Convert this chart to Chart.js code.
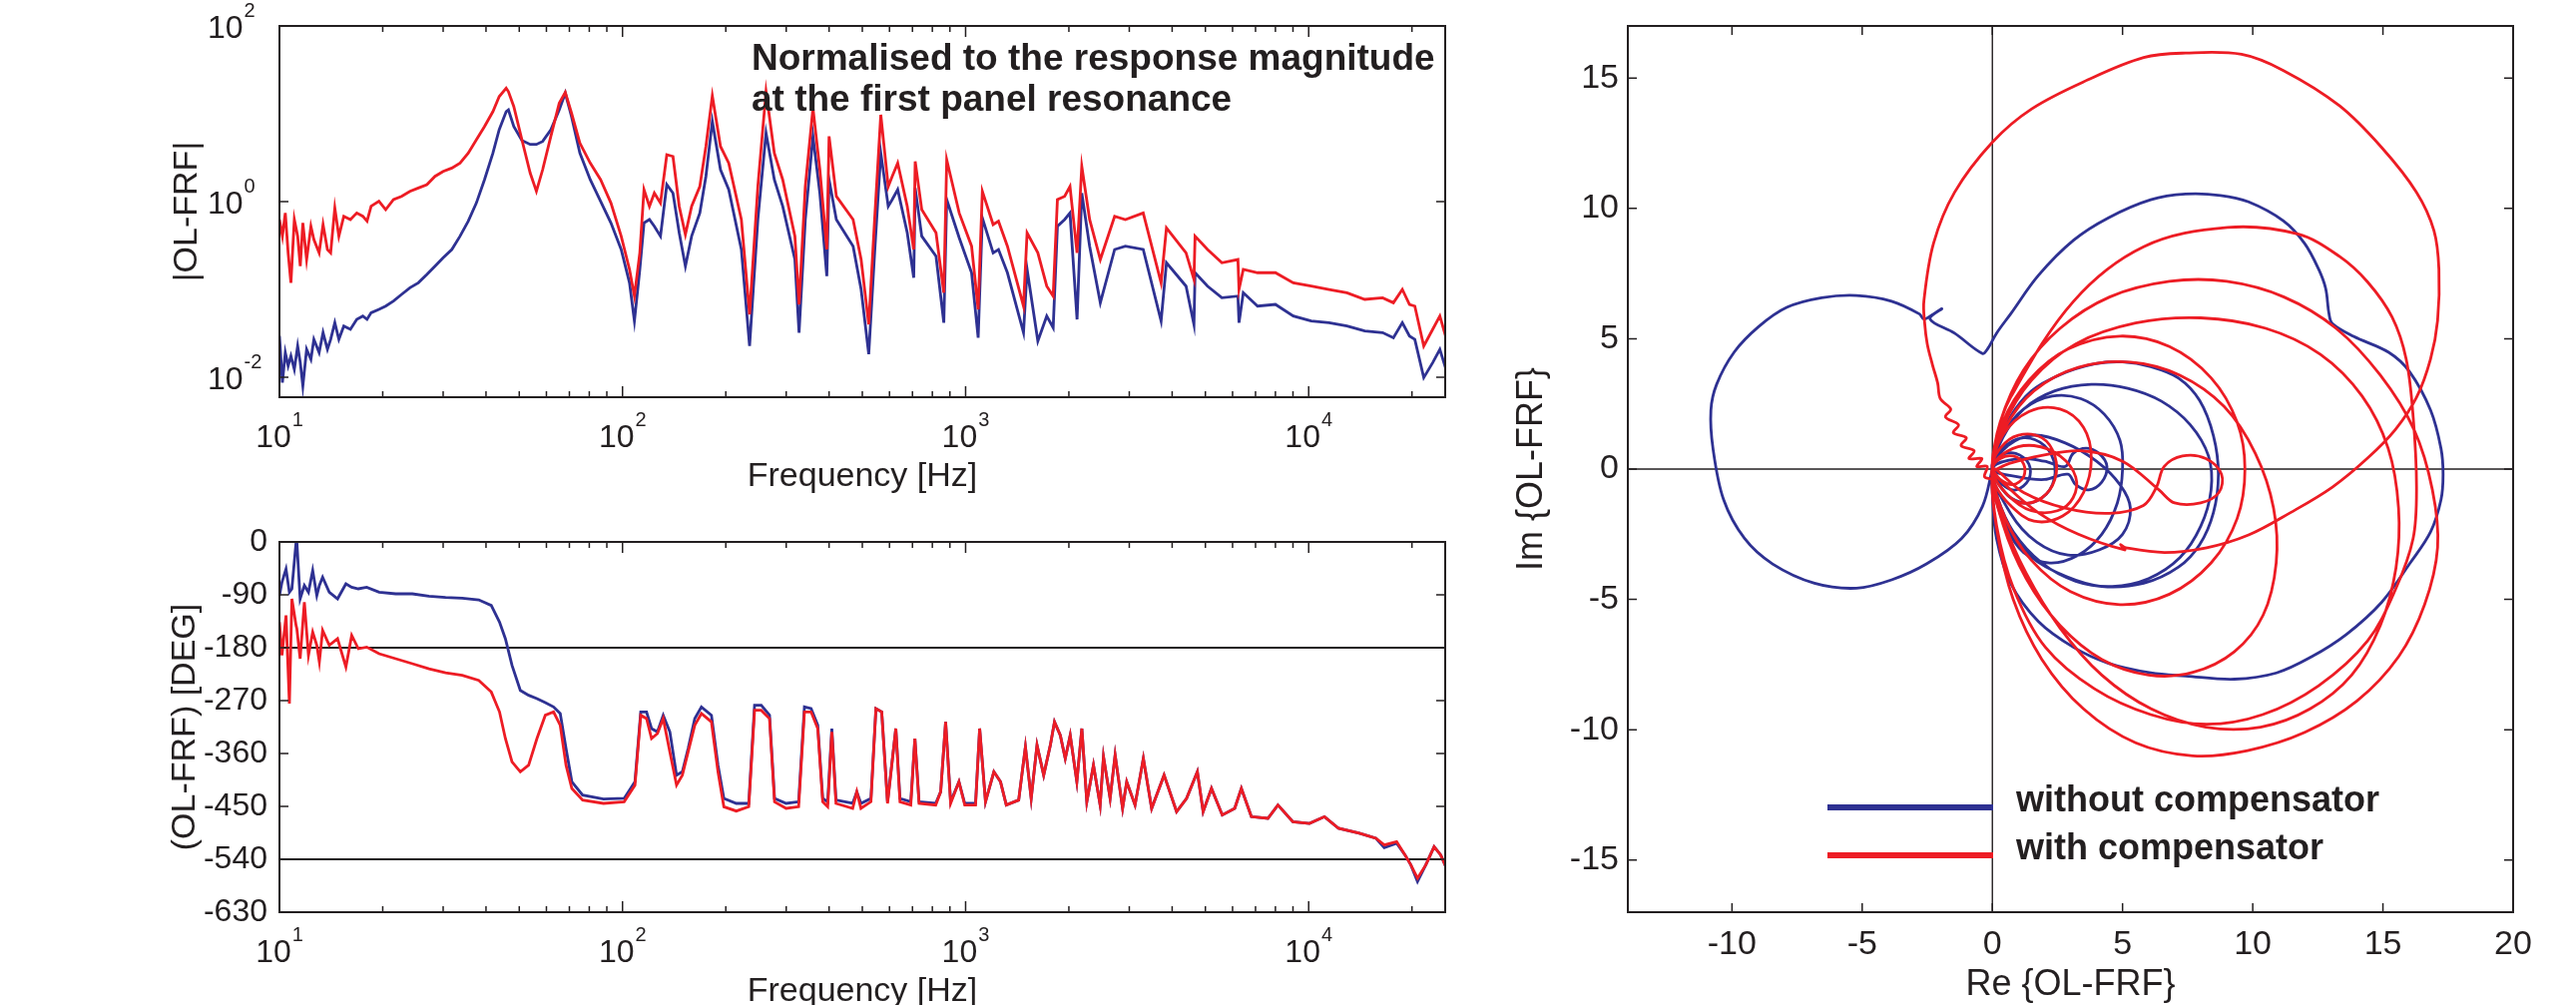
<!DOCTYPE html>
<html>
<head>
<meta charset="utf-8">
<title>OL-FRF with and without compensator</title>
<script src="https://cdn.jsdelivr.net/npm/chart.js@4.4.0/dist/chart.umd.min.js"></script>
<style>
  html, body { margin: 0; padding: 0; background: #fff; }
  #wrap { position: relative; width: 2581px; height: 1007px; overflow: hidden; }
  #wrap canvas { position: absolute; left: 0; top: 0; }
</style>
</head>
<body>
<div id="wrap">
  <canvas id="mag" width="2581" height="1007"></canvas>
  <canvas id="phase" width="2581" height="1007"></canvas>
  <canvas id="nyq" width="2581" height="1007"></canvas>
</div>
<script>
// ---- data ----
// magnitude plot: frequency [Hz] and |OL-FRF| for both cases
const magFreq = [10, 10.2, 10.4, 10.6, 10.8, 11.05, 11.3, 11.5, 11.7, 12.0,
  12.35, 12.6, 13.05, 13.4, 13.8, 14.1, 14.5, 14.9, 15.4, 16.1,
  16.8, 17.5, 18.0, 18.5, 19.5, 20.4, 21.5, 22.7, 24.0, 25.4,
  26.9, 28.4, 30.0, 31.8, 33.6, 35.5, 37.5, 39.6, 41.9, 43.7,
  45.8, 46.5, 48.2, 50.9, 53.8, 56.1, 58.5, 61.8, 65.4, 68.1,
  71.0, 75.1, 80.5, 86.3, 92.5, 99.1, 104.8, 108.3, 112.3, 115.5,
  119.8, 123.8, 129, 134.6, 140.3, 146.3, 152.5, 159, 168, 175,
  182.7, 193, 204, 222, 234.6, 248, 262, 277, 293, 318,
  327, 341, 359, 376, 394, 400, 420, 470, 496, 522,
  543, 566, 595, 611, 634, 676, 706, 713, 745, 820,
  864, 881, 958, 1041, 1088, 1119, 1203, 1247, 1324, 1475,
  1511, 1624, 1724, 1800, 1852, 1944, 2015, 2113, 2181, 2299,
  2470, 2719, 2922, 3294, 3714, 3850, 4391, 4630, 4665, 5073,
  5584, 6220, 6265, 6448, 7096, 8000, 9020, 10170, 11470, 12930,
  14570, 16430, 17660, 18750, 19670, 20390, 21650, 22990, 24120, 25300];

const magWith = [0.625, 0.404, 0.743, 0.261, 0.119, 0.625, 0.404, 0.184, 0.572, 0.219,
  0.524, 0.370, 0.261, 0.548, 0.285, 0.261, 0.847, 0.404, 0.681, 0.625,
  0.743, 0.681, 0.598, 0.885, 1.01, 0.811, 1.054, 1.15, 1.31, 1.43,
  1.56, 1.94, 2.21, 2.41, 2.75, 3.57, 5.07, 7.18, 10.6, 15.7,
  19.6, 17.9, 12.1, 5.07, 2.12, 1.31, 2.31, 5.53, 13.2, 17.5,
  10.2, 4.64, 2.75, 1.78, 0.966, 0.404, 0.169, 0.084, 0.261, 1.37,
  0.885, 1.25, 0.966, 3.42, 3.27, 0.885, 0.422, 0.885, 1.49, 4.25,
  16.0, 4.25, 2.75, 0.625, 0.052, 1.49, 17.9, 3.57, 1.78, 0.404,
  0.0675, 1.49, 11.6, 2.31, 0.285, 5.53, 1.15, 0.625, 0.219, 0.04,
  0.625, 9.74, 1.49, 1.94, 2.75, 0.885, 0.285, 2.87, 0.811, 0.441,
  0.0917, 3.0, 0.743, 0.311, 0.0593, 1.31, 0.548, 0.598, 0.311, 0.0646,
  0.441, 0.261, 0.109, 0.084, 1.054, 1.15, 1.49, 0.261, 2.52, 0.625,
  0.219, 0.681, 0.625, 0.743, 0.119, 0.502, 0.261, 0.13, 0.404, 0.285,
  0.201, 0.219, 0.1, 0.169, 0.155, 0.155, 0.119, 0.109, 0.1, 0.0917,
  0.077, 0.0804, 0.0705, 0.1, 0.0675, 0.0646, 0.0227, 0.0351, 0.0498, 0.0259];

const magWithout = [0.0295, 0.0087, 0.0191, 0.01345, 0.01748, 0.01233, 0.0227, 0.01468, 0.00797, 0.0208,
  0.016, 0.027, 0.0191, 0.0322, 0.0208, 0.027, 0.0418, 0.027, 0.0383, 0.0351,
  0.0456, 0.0498, 0.0456, 0.0543, 0.0593, 0.0646, 0.0737, 0.0877, 0.1045, 0.119,
  0.148, 0.184, 0.229, 0.285, 0.404, 0.598, 0.966, 1.78, 3.57, 6.58,
  10.6, 11.1, 7.18, 4.98, 4.48, 4.48, 4.85, 6.58, 11.1, 17.2,
  9.33, 3.57, 1.78, 1.01, 0.572, 0.285, 0.119, 0.0437, 0.169, 0.572,
  0.625, 0.524, 0.404, 1.56, 1.25, 0.441, 0.184, 0.404, 0.743, 1.94,
  8.18, 2.31, 1.37, 0.285, 0.0227, 0.625, 6.03, 1.78, 0.885, 0.219,
  0.0322, 0.625, 5.53, 1.25, 0.142, 1.78, 0.625, 0.311, 0.1, 0.0183,
  0.261, 3.57, 0.885, 1.054, 1.37, 0.441, 0.136, 1.43, 0.404, 0.239,
  0.0418, 1.054, 0.387, 0.155, 0.0282, 0.652, 0.261, 0.285, 0.155, 0.0322,
  0.169, 0.0259, 0.0498, 0.0367, 0.524, 0.625, 0.743, 0.0456, 1.25, 0.311,
  0.0705, 0.285, 0.311, 0.285, 0.0437, 0.201, 0.109, 0.04, 0.155, 0.109,
  0.0804, 0.084, 0.0418, 0.0917, 0.0646, 0.0675, 0.0498, 0.0437, 0.0418, 0.0383,
  0.0336, 0.0322, 0.0282, 0.0418, 0.0295, 0.027, 0.0099, 0.01468, 0.0208, 0.0113];

// phase plot: frequency [Hz] and phase [deg]
const phaseFreq = [10.0, 10.17, 10.45, 10.69, 10.87, 11.18, 11.24, 11.49, 11.82, 12.15,
  12.5, 12.85, 13.07, 13.36, 13.97, 14.77, 15.62, 16.24, 16.98, 17.96,
  19.52, 21.82, 24.4, 27.28, 30.5, 34.1, 38.1, 41.44, 43.8, 45.56,
  47.63, 50.36, 53.25, 56.3, 59.55, 62.95, 65.83, 68.44, 71.17, 76.5,
  87.98, 101.1, 108.7, 113.0, 117.5, 121.5, 126.4, 131.4, 137.4, 143.7,
  149.4, 155.3, 162.4, 169.8, 181.6, 189.8, 197.4, 214.6, 233.3, 242.6,
  253.7, 268.2, 277.4, 299.9, 326.1, 339.0, 354.5, 370.7, 383.3, 396.3,
  407.5, 419.0, 468.6, 481.8, 495.4, 529.7, 547.8, 569.5, 592.2, 626.1,
  643.8, 692.1, 711.6, 731.7, 818.1, 845.9, 874.6, 904.5, 956.3, 994.3,
  1069, 1099, 1143, 1209, 1264, 1314, 1428, 1494, 1553, 1615,
  1689, 1766, 1816, 1888, 1952, 2018, 2110, 2182, 2256, 2359,
  2467, 2523, 2638, 2728, 2868, 2949, 3118, 3297, 3486, 3789,
  4121, 4406, 4737, 4925, 5208, 5600, 6087, 6365, 6807, 7607,
  8136, 8995, 10055, 11120, 12220, 14050, 15710, 16610, 18050, 19090,
  19850, 20760, 21950, 23210, 24260, 25220, 26230];

const phaseWithout = [-91.1, -68.5, -45.9, -85.5, -79.8, -0.6, 0, -96.8, -74.2, -85.5,
  -48.7, -91.1, -74.2, -60.0, -85.5, -96.8, -71.3, -77.0, -79.8, -77.0,
  -85.5, -88.3, -88.3, -92.3, -94.5, -95.7, -98.5, -108.1, -136.4, -164.7,
  -210.0, -252.5, -260.9, -266.6, -273.4, -280.8, -292.1, -351.5, -408.1, -430.7,
  -437.5, -436.4, -408.1, -289.2, -289.2, -317.5, -323.2, -294.9, -323.2, -396.8,
  -391.1, -351.5, -300.6, -280.8, -294.9, -379.8, -436.4, -444.9, -444.9, -277.9,
  -277.9, -294.9, -436.4, -444.9, -442.1, -280.8, -283.6, -311.9, -436.4, -442.1,
  -317.5, -439.2, -444.9, -425.1, -444.9, -436.4, -283.6, -289.2, -442.1, -317.5,
  -436.4, -442.1, -334.5, -442.1, -444.9, -425.1, -306.2, -442.1, -408.1, -444.9,
  -444.9, -317.5, -442.1, -391.1, -408.1, -447.7, -439.2, -348.7, -436.4, -345.8,
  -396.8, -345.8, -306.2, -328.9, -368.5, -328.9, -408.1, -317.5, -442.1, -379.8,
  -447.7, -365.7, -436.4, -362.8, -453.4, -408.1, -447.7, -368.5, -453.4, -396.8,
  -459.0, -436.4, -391.1, -459.0, -419.4, -464.7, -453.4, -419.4, -467.5, -470.4,
  -447.7, -476.0, -478.9, -467.5, -487.3, -495.8, -504.3, -520.2, -512.8, -532.6,
  -549.6, -577.9, -549.6, -518.5, -532.6, -555.3, -521.3];

const phaseWith = [-136.4, -193.0, -125.1, -275.1, -96.8, -142.1, -147.7, -198.7, -102.5, -193.0,
  -153.4, -176.0, -204.3, -150.6, -176.0, -164.7, -212.8, -159.1, -181.7, -178.9,
  -190.2, -198.7, -207.2, -215.7, -222.5, -227.0, -235.5, -255.3, -289.2, -334.5,
  -374.1, -391.1, -379.8, -334.5, -294.9, -289.2, -311.9, -379.8, -419.4, -439.2,
  -444.9, -442.1, -413.8, -294.9, -300.6, -334.5, -326.0, -300.6, -357.2, -413.8,
  -396.8, -357.2, -311.9, -292.1, -306.2, -391.1, -450.6, -457.9, -450.6, -286.4,
  -286.4, -300.6, -442.1, -453.4, -450.6, -289.2, -289.2, -317.5, -442.1, -450.6,
  -323.2, -444.9, -453.4, -425.1, -453.4, -442.1, -283.6, -289.2, -444.9, -317.5,
  -442.1, -447.7, -334.5, -444.9, -447.7, -425.1, -306.2, -444.9, -408.1, -447.7,
  -447.7, -317.5, -442.1, -391.1, -408.1, -447.7, -439.2, -348.7, -436.4, -345.8,
  -396.8, -345.8, -306.2, -328.9, -368.5, -328.9, -408.1, -317.5, -442.1, -379.8,
  -447.7, -365.7, -436.4, -362.8, -453.4, -408.1, -447.7, -368.5, -453.4, -396.8,
  -459.0, -436.4, -391.1, -459.0, -419.4, -464.7, -453.4, -419.4, -467.5, -470.4,
  -447.7, -476.0, -478.9, -467.5, -487.3, -495.8, -504.3, -515.6, -510.0, -532.6,
  -549.6, -572.2, -549.6, -518.5, -532.6, -555.3, -521.3];

// Nyquist plot: [Re, Im] pairs, in frequency order
const nyqWithout = [
  [0,0],[-0.38,-1.43],[-1.18,-2.66],[-2.53,-3.64],[-3.87,-4.25],[-5.22,-4.57],[-6.83,-4.38],[-8.44,-3.64],
  [-9.52,-2.66],[-10.32,-1.18],[-10.73,0.79],[-10.81,2.26],[-10.59,3.25],[-9.92,4.48],[-8.98,5.46],[-7.90,6.20],
  [-6.56,6.57],[-5.22,6.66],[-3.87,6.44],[-2.80,5.95],[-2.63,5.75],[-2.26,5.95],[-1.94,6.15],[-2.39,5.75],
  [-1.45,5.21],[-0.38,4.43],[-0.19,4.60],[0.16,5.21],[0.70,5.95],[1.77,7.43],[3.12,8.78],[4.46,9.64],
  [6.08,10.33],[7.42,10.55],[8.76,10.50],[9.84,10.25],[11.18,9.52],[11.99,8.66],[12.53,7.67],[12.80,6.93],
  [12.93,5.95],[13.06,5.58],[13.87,5.09],[15.22,4.48],[16.02,3.74],[16.83,2.26],[17.23,0.79],[17.31,-0.20],
  [17.23,-1.18],[16.83,-2.41],[16.02,-3.64],[14.95,-5.11],[13.60,-6.34],[12.26,-7.20],[10.91,-7.82],[9.30,-8.06],
  [7.42,-7.94],[6.08,-7.82],[4.46,-7.45],[3.12,-6.84],[1.77,-5.85],[0.70,-4.38],[0.16,-2.66],[0,-0.93],[0,0],
  [0.30,1.03],[0.70,2.02],[1.51,3.0],[2.58,3.61],[3.92,4.03],[5.0,4.11],[6.08,3.93],[7.15,3.49],[7.96,2.63],
  [8.49,1.28],[8.68,-0.2],[8.49,-1.67],[7.96,-2.90],[7.15,-3.76],[5.81,-4.38],[4.19,-4.50],[2.85,-4.13],
  [1.51,-3.39],[0.56,-2.16],[0.16,-0.93],[0,0],
  [0.4,1.2],[1.2,2.3],[2.4,3.0],[3.8,3.25],[5.2,3.1],[6.5,2.6],[7.6,1.7],[8.3,0.5],[8.4,-0.8],[8.0,-2.2],
  [7.2,-3.4],[6.0,-4.2],[4.6,-4.5],[3.2,-4.3],[1.9,-3.6],[0.8,-2.4],[0.2,-1.1],[0,0],
  [0.4,1.3],[1.2,2.3],[2.3,2.8],[3.4,2.7],[4.3,2.1],[4.9,1.1],[5.0,0],[4.8,-1.3],[4.2,-2.5],[3.3,-3.3],
  [2.2,-3.6],[1.2,-3.2],[0.5,-2.2],[0.1,-1.0],[0,0],
  [0.6,0.9],[1.6,1.3],[2.8,1.0],[4.0,0.3],[4.9,-0.6],[5.3,-1.5],[5.0,-2.5],[4.1,-3.1],[2.9,-3.3],[1.7,-2.8],
  [0.7,-1.7],[0,0],
  [1.0,0.4],[2.0,0.3],[2.8,0.1],[3.1,0.6],[3.6,0.8],[4.1,0.6],[4.4,0.1],[4.2,-0.5],[3.7,-0.8],[3.2,-0.6],
  [2.9,-0.2],[2.0,-0.4],[1.0,-0.3],[0,0],
  [0.4,0.8],[1.2,1.2],[2.0,0.9],[2.4,0.1],[2.2,-0.8],[1.5,-1.3],[0.7,-1.1],[0.2,-0.5],[0,0],
  [0.3,0.5],[0.9,0.6],[1.4,0.2],[1.4,-0.4],[0.9,-0.8],[0.4,-0.6],[0,0]
];

const nyqWith = [
  [0.1,-0.4],[-0.3,-0.3],[-0.2,0.1],[-0.6,0.1],[-0.4,0.4],[-0.9,0.4],[-0.7,0.7],[-1.2,0.9],[-1.0,1.2],
  [-1.5,1.4],[-1.3,1.7],[-1.8,2.0],[-1.6,2.3],[-2.0,2.7],[-2.1,3.3],[-2.3,4.0],[-2.5,4.8],[-2.6,5.6],[-2.63,6.44],
  [-2.26,8.66],[-1.45,10.62],[0,12.54],[1.51,13.82],[3.66,14.93],[5.81,15.79],[7.42,15.96],[9.57,15.91],
  [11.18,15.29],[13.33,13.94],[14.95,12.34],[16.29,10.62],[16.96,9.15],[17.15,7.67],[17.10,5.70],[16.83,4.23],
  [16.29,2.75],[15.48,1.52],[14.41,0.42],[13.06,-0.69],[11.45,-1.67],[9.84,-2.53],[8.23,-3.02],[6.61,-3.2],
  [5.13,-3.02],[4.92,-2.9],[5.08,-3.1],[3.3,-2.5],[1.8,-1.7],[0.6,-0.7],[0,0],
  [0.3,0.8],[1.0,1.3],[1.9,1.2],[2.4,0.5],[2.4,-0.4],[1.9,-1.1],[1.1,-1.3],[0.4,-0.8],[0,0],
  [0.4,1.3],[1.4,2.2],[2.6,2.3],[3.5,1.6],[3.8,0.4],[3.5,-0.9],[2.7,-1.8],[1.6,-2.0],[0.7,-1.4],[0.1,-0.6],[0,0],
  [0.15,1.2],[0.7,2.75],[3.12,6.44],[5.81,8.53],[9.03,9.27],[11.72,9.02],[13.33,8.16],[14.41,7.18],[15.35,5.83],
  [15.89,4.23],[16.16,2.02],[16.29,-0.69],[16.16,-2.66],[15.48,-4.62],[14.41,-6.59],[12.53,-8.31],[10.38,-9.42],
  [8.23,-9.79],[6.08,-9.42],[3.92,-8.43],[2.04,-6.84],[0.83,-4.62],[0.16,-2.16],[0,0],
  [0.3,1.8],[1.2,3.8],[2.6,5.4],[4.5,6.6],[6.8,7.2],[9,7.2],[11.2,6.6],[13.2,5.4],[14.9,3.6],[16.2,1.5],
  [16.9,-0.8],[17.1,-3.0],[16.6,-5.2],[15.6,-7.2],[14.0,-8.9],[12.0,-10.1],[9.8,-10.8],[7.7,-11.0],[5.5,-10.5],
  [3.5,-9.2],[1.9,-7.3],[0.8,-5.0],[0.2,-2.5],[0,0],
  [0.5,1.6],[1.6,3.0],[3.3,3.9],[5.3,4.1],[7.2,3.6],[8.9,2.4],[10.1,0.6],[10.8,-1.5],[10.9,-3.6],[10.4,-5.6],
  [9.3,-7.0],[7.7,-7.8],[6.0,-7.9],[4.2,-7.3],[2.6,-6.0],[1.3,-4.2],[0.4,-2.1],[0,0],
  [0.6,0.7],[1.6,0.9],[2.6,0.5],[3.2,-0.3],[3.1,-1.1],[2.5,-1.6],[1.5,-1.6],[0.6,-1.0],[0,0],
  [0.4,1.8],[1.4,3.4],[2.9,4.6],[4.9,5.1],[6.8,4.7],[8.4,3.5],[9.4,1.8],[9.7,0],[9.4,-1.9],[8.4,-3.6],
  [6.8,-4.8],[4.9,-5.2],[3.0,-4.7],[1.5,-3.5],[0.5,-1.9],[0,0],
  [1.2,-0.9],[2.8,-1.5],[4.5,-1.7],[5.8,-1.4],[6.3,-0.7],[6.6,0.1],[7.3,0.5],[8.2,0.4],[8.8,-0.2],[8.7,-0.9],
  [8.0,-1.3],[7.0,-1.3],[6.4,-0.8],[5.0,0.3],[3.4,0.7],[1.8,0.5],[0.6,0.2],[0,0],
  [0.4,1.6],[1.5,3.4],[3.2,4.8],[5.5,5.6],[8,5.8],[10.5,5.4],[12.6,4.4],[14.2,2.8],[15.2,0.8],[15.6,-1.5],
  [15.5,-3.8],[14.9,-6.0],[13.8,-7.9],[12.2,-9.2],[10.3,-9.9],[8.2,-9.9],[6.1,-9.2],[4.2,-7.9],[2.6,-6.1],
  [1.3,-4.0],[0.4,-1.9],[0,0],
  [0.3,0.4],[0.8,0.5],[1.2,0.2],[1.2,-0.3],[0.8,-0.6],[0.3,-0.4],[0,0]
];

// ticks and reference lines
const freqTicks = [10, 100, 1000, 10000];
const magTicks = [0.01, 1, 100];
const phaseTicks = [0, -90, -180, -270, -360, -450, -540, -630];
const phaseRefLines = [-180, -540];
const reTicks = [-10, -5, 0, 5, 10, 15, 20];
const imTicks = [-15, -10, -5, 0, 5, 10, 15];
const seriesNames = ['without compensator', 'with compensator'];
const noteLines = ['Normalised to the response magnitude', 'at the first panel resonance'];

const BLUE = '#2e3192';
const RED = '#ed1c24';
const INK = '#231f20';
const FAM = '"Liberation Sans", Arial, Helvetica, sans-serif';

const pts = (xs, ys) => xs.map((v, i) => ({ x: v, y: ys[i] }));
const pairs = list => list.map(p => ({ x: p[0], y: p[1] }));

// "10" with a raised exponent, like MATLAB's log tick labels
function powLabel(ctx, exp, x, y, align, size) {
  const base = size + 'px ' + FAM, small = Math.round(size * 0.64) + 'px ' + FAM;
  ctx.font = base;
  const wb = ctx.measureText('10').width;
  ctx.font = small;
  const we = ctx.measureText(exp).width;
  const x0 = align === 'center' ? x - (wb + 1 + we) / 2 : x;
  ctx.textAlign = 'left';
  ctx.textBaseline = 'alphabetic';
  ctx.font = base;
  ctx.fillText('10', x0, y);
  ctx.font = small;
  ctx.fillText(exp, x0 + wb + 1, y - Math.round(size * 0.66));
}

// box, inward ticks, labels and titles drawn MATLAB style
function axesPlugin(cfg) {
  return {
    id: 'matlabAxes',
    beforeDatasetsDraw(chart) {
      const { ctx, chartArea: a, scales } = chart;
      ctx.save();
      ctx.strokeStyle = INK;
      ctx.lineWidth = cfg.refWidth || 1.5;
      (cfg.hLines || []).forEach(v => {
        const py = scales.y.getPixelForValue(v);
        ctx.beginPath(); ctx.moveTo(a.left, py); ctx.lineTo(a.right, py); ctx.stroke();
      });
      (cfg.vLines || []).forEach(v => {
        const px = scales.x.getPixelForValue(v);
        ctx.beginPath(); ctx.moveTo(px, a.top); ctx.lineTo(px, a.bottom); ctx.stroke();
      });
      ctx.restore();
    },
    afterDraw(chart) {
      const { ctx, chartArea: a, scales: { x, y } } = chart;
      ctx.save();
      ctx.strokeStyle = INK;
      ctx.fillStyle = INK;

      // tick marks
      ctx.lineWidth = 1.5;
      const xTick = (v, len) => {
        const px = x.getPixelForValue(v);
        ctx.beginPath();
        ctx.moveTo(px, a.bottom); ctx.lineTo(px, a.bottom - len);
        ctx.moveTo(px, a.top); ctx.lineTo(px, a.top + len);
        ctx.stroke();
      };
      const yTick = (v, len) => {
        const py = y.getPixelForValue(v);
        ctx.beginPath();
        ctx.moveTo(a.left, py); ctx.lineTo(a.left + len, py);
        ctx.moveTo(a.right, py); ctx.lineTo(a.right - len, py);
        ctx.stroke();
      };
      cfg.xTicks.forEach(v => xTick(v, cfg.xLog ? 11 : 9));
      if (cfg.xLog) {
        cfg.xTicks.forEach(d => {
          for (let k = 2; k <= 9; k++) if (k * d <= x.max) xTick(k * d, 6);
        });
      }
      cfg.yTicks.forEach(v => yTick(v, 9));

      // frame
      ctx.lineWidth = 2;
      ctx.strokeRect(a.left, a.top, a.width, a.height);

      // tick labels
      const fs = cfg.tickSize;
      cfg.xTicks.forEach(v => {
        const px = x.getPixelForValue(v);
        if (cfg.xLog) {
          powLabel(ctx, String(Math.round(Math.log10(v))), px, a.bottom + 50, 'center', fs);
        } else {
          ctx.font = fs + 'px ' + FAM;
          ctx.textAlign = 'center';
          ctx.textBaseline = 'alphabetic';
          ctx.fillText(String(v), px, a.bottom + cfg.xLabelDy);
        }
      });
      cfg.yTicks.forEach(v => {
        const py = y.getPixelForValue(v);
        if (cfg.yLog) {
          powLabel(ctx, String(Math.round(Math.log10(v))), a.left - 72, py + 11.5, 'left', fs);
        } else {
          ctx.font = fs + 'px ' + FAM;
          ctx.textAlign = 'right';
          ctx.textBaseline = 'middle';
          ctx.fillText(String(v), a.left - cfg.yLabelGap, py);
        }
      });

      // axis titles
      ctx.font = cfg.titleSize + 'px ' + FAM;
      ctx.textAlign = 'center';
      ctx.textBaseline = 'alphabetic';
      ctx.fillText(cfg.xTitle, (a.left + a.right) / 2, a.bottom + cfg.xTitleDy);
      ctx.save();
      ctx.translate(a.left - cfg.yTitleDx, (a.top + a.bottom) / 2);
      ctx.rotate(-Math.PI / 2);
      ctx.textBaseline = 'middle';
      ctx.fillText(cfg.yTitle, 0, 0);
      ctx.restore();

      // bold note in the plot
      if (cfg.notes) {
        ctx.font = 'bold 37px ' + FAM;
        ctx.textAlign = 'left';
        ctx.textBaseline = 'alphabetic';
        cfg.notes.forEach((t, i) => ctx.fillText(t, a.left + 473, a.top + 44 + i * 41));
      }

      // legend drawn inside the axes, as in the figure
      if (cfg.legend) {
        cfg.legend.forEach((e, i) => {
          const ly = a.top + 783 + i * 48;
          ctx.strokeStyle = e.color;
          ctx.lineWidth = 6;
          ctx.beginPath(); ctx.moveTo(a.left + 200, ly); ctx.lineTo(a.left + 366, ly); ctx.stroke();
          ctx.font = 'bold 36px ' + FAM;
          ctx.textAlign = 'left';
          ctx.textBaseline = 'alphabetic';
          ctx.fillStyle = INK;
          ctx.fillText(e.label, a.left + 389, ly + 4);
        });
      }
      ctx.restore();
    }
  };
}

function lineSet(label, data, color, order, tension) {
  return {
    label: label, data: data, showLine: true, borderColor: color, backgroundColor: color,
    borderWidth: 2.8, pointRadius: 0, fill: false, tension: tension, order: order
  };
}

const baseOptions = (padding, xScale, yScale) => ({
  responsive: false,
  animation: false,
  devicePixelRatio: 1,
  events: [],
  layout: { padding: padding },
  plugins: { legend: { display: false }, tooltip: { enabled: false }, title: { display: false } },
  scales: { x: xScale, y: yScale }
});

// |OL-FRF|
new Chart(document.getElementById('mag'), {
  type: 'scatter',
  data: {
    datasets: [
      lineSet(seriesNames[1], pts(magFreq, magWith), RED, 0, 0),
      lineSet(seriesNames[0], pts(magFreq, magWithout), BLUE, 1, 0)
    ]
  },
  options: baseOptions(
    { left: 280, top: 26, right: 1133, bottom: 609 },
    { type: 'logarithmic', min: 10, max: 25000, display: false, bounds: 'data' },
    { type: 'logarithmic', min: 0.00593, max: 100, display: false, bounds: 'data' }
  ),
  plugins: [axesPlugin({
    xTicks: freqTicks, xLog: true, yTicks: magTicks, yLog: true, tickSize: 32,
    titleSize: 34, xTitle: 'Frequency [Hz]', xTitleDy: 89, yTitle: '|OL-FRF|', yTitleDx: 92,
    notes: noteLines
  })]
});

// phase
new Chart(document.getElementById('phase'), {
  type: 'scatter',
  data: {
    datasets: [
      lineSet(seriesNames[1], pts(phaseFreq, phaseWith), RED, 0, 0),
      lineSet(seriesNames[0], pts(phaseFreq, phaseWithout), BLUE, 1, 0)
    ]
  },
  options: baseOptions(
    { left: 280, top: 543, right: 1133, bottom: 93 },
    { type: 'logarithmic', min: 10, max: 25000, display: false, bounds: 'data' },
    { type: 'linear', min: -630, max: 0, display: false, bounds: 'data' }
  ),
  plugins: [axesPlugin({
    xTicks: freqTicks, xLog: true, yTicks: phaseTicks, yLog: false, yLabelGap: 12, tickSize: 32,
    titleSize: 34, xTitle: 'Frequency [Hz]', xTitleDy: 89, yTitle: '(OL-FRF) [DEG]', yTitleDx: 94,
    hLines: phaseRefLines, refWidth: 1.8
  })]
});

// Nyquist
new Chart(document.getElementById('nyq'), {
  type: 'scatter',
  data: {
    datasets: [
      lineSet(seriesNames[1], pairs(nyqWith), RED, 0, 0.35),
      lineSet(seriesNames[0], pairs(nyqWithout), BLUE, 1, 0.35)
    ]
  },
  options: baseOptions(
    { left: 1631, top: 26, right: 63, bottom: 93 },
    { type: 'linear', min: -14, max: 20, display: false, bounds: 'data' },
    { type: 'linear', min: -17, max: 17, display: false, bounds: 'data' }
  ),
  plugins: [axesPlugin({
    xTicks: reTicks, xLog: false, xLabelDy: 42, yTicks: imTicks, yLog: false, yLabelGap: 9, tickSize: 34,
    titleSize: 36, xTitle: 'Re {OL-FRF}', xTitleDy: 83, yTitle: 'Im {OL-FRF}', yTitleDx: 96,
    hLines: [0], vLines: [0], refWidth: 1.4,
    legend: [{ color: BLUE, label: seriesNames[0] }, { color: RED, label: seriesNames[1] }]
  })]
});
</script>
</body>
</html>
